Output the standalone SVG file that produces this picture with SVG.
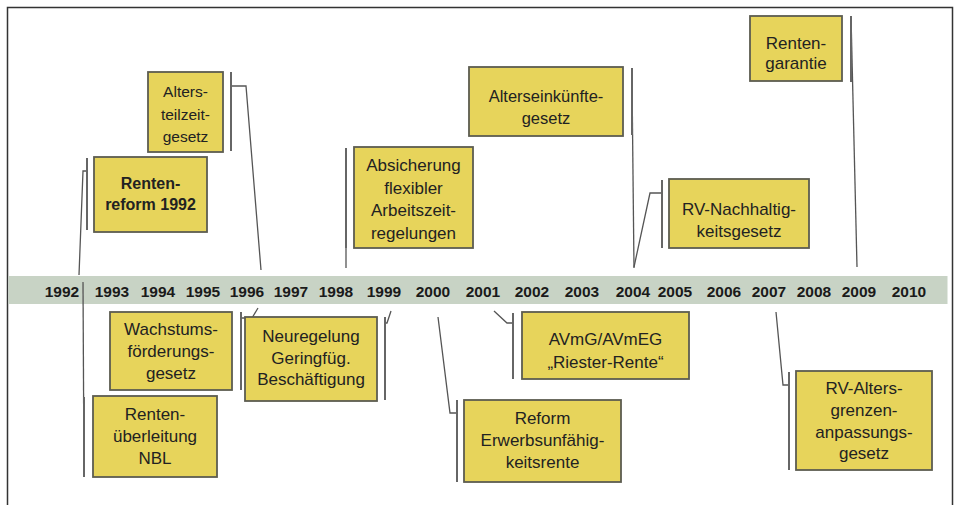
<svg xmlns="http://www.w3.org/2000/svg" width="957" height="505" viewBox="0 0 957 505">
<style>
.box{fill:#e7d45b;stroke:#5c5c50;stroke-width:1.8}
.t{font-family:"Liberation Sans",Arial,sans-serif;font-size:17px;fill:#222;text-anchor:middle}
.yr{font-family:"Liberation Sans",Arial,sans-serif;font-size:15.5px;font-weight:bold;fill:#1a1a1a;text-anchor:middle}
.ln{fill:none;stroke:#555;stroke-width:1.3}
.ac{fill:none;stroke:#666;stroke-width:2}
</style>
<rect x="0" y="0" width="957" height="505" fill="#fff"/>
<rect x="7.5" y="7.5" width="945" height="510" fill="none" stroke="#333" stroke-width="1.5"/>
<g id="timeline">
<rect x="8.5" y="276" width="939" height="28" fill="#c8d3c5"/>
<text class="yr" x="62" y="297">1992</text>
<text class="yr" x="112" y="297">1993</text>
<text class="yr" x="158" y="297">1994</text>
<text class="yr" x="203" y="297">1995</text>
<text class="yr" x="247" y="297">1996</text>
<text class="yr" x="291" y="297">1997</text>
<text class="yr" x="336" y="297">1998</text>
<text class="yr" x="384" y="297">1999</text>
<text class="yr" x="433" y="297">2000</text>
<text class="yr" x="483" y="297">2001</text>
<text class="yr" x="532" y="297">2002</text>
<text class="yr" x="582" y="297">2003</text>
<text class="yr" x="633" y="297">2004</text>
<text class="yr" x="675" y="297">2005</text>
<text class="yr" x="724" y="297">2006</text>
<text class="yr" x="769" y="297">2007</text>
<text class="yr" x="814" y="297">2008</text>
<text class="yr" x="859" y="297">2009</text>
<text class="yr" x="909" y="297">2010</text>
</g>
<g id="connectors">
<polyline class="ln" points="79,275 83,171 87,171"/><line class="ac" x1="87" y1="158" x2="87" y2="230"/>
<polyline class="ln" points="231,86 246,86 261,270"/><line class="ac" x1="231" y1="72" x2="231" y2="151"/>
<line class="ln" x1="346" y1="148" x2="346" y2="268"/><line class="ac" x1="346" y1="148" x2="346" y2="248"/>
<line class="ln" x1="632" y1="80" x2="634" y2="268"/><line class="ac" x1="632" y1="68" x2="632" y2="135"/>
<polyline class="ln" points="662,193 650,193 634,267"/><line class="ac" x1="662" y1="180" x2="662" y2="248"/>
<line class="ln" x1="851" y1="16" x2="857" y2="267"/><line class="ac" x1="851" y1="16" x2="851" y2="82"/>
<line class="ln" x1="83" y1="282" x2="84" y2="477"/><line class="ac" x1="84" y1="397" x2="84" y2="477"/>
<polyline class="ln" points="241,318 252,318 258,308"/><line class="ac" x1="241" y1="312" x2="241" y2="390"/>
<polyline class="ln" points="385,323 387,323 391,311"/><line class="ac" x1="385" y1="317" x2="385" y2="400"/>
<polyline class="ln" points="438,317 450,413 457,413"/><line class="ac" x1="457" y1="400" x2="457" y2="482"/>
<polyline class="ln" points="494,311 507,323 513,323"/><line class="ac" x1="513" y1="313" x2="513" y2="379"/>
<polyline class="ln" points="776,312 783,385 789,385"/><line class="ac" x1="789" y1="372" x2="789" y2="470"/>
</g>
<g id="alters-teilzeit">
<rect class="box" x="148" y="72" width="75" height="80"/>
<text class="t" style="font-size:15.5px" x="185.5" y="97">Alters-</text>
<text class="t" style="font-size:15.5px" x="185.5" y="120">teilzeit-</text>
<text class="t" style="font-size:15.5px" x="185.5" y="142">gesetz</text>
</g>
<g id="rentenreform-1992">
<rect class="box" x="94" y="157" width="113" height="75"/>
<text class="t" style="font-size:16px;font-weight:bold" x="150.5" y="189">Renten-</text>
<text class="t" style="font-size:16px;font-weight:bold" x="150.5" y="210">reform 1992</text>
</g>
<g id="absicherung">
<rect class="box" x="354" y="147" width="119" height="101"/>
<text class="t" x="413.5" y="171">Absicherung</text>
<text class="t" x="413.5" y="193.5">flexibler</text>
<text class="t" x="413.5" y="216">Arbeitszeit-</text>
<text class="t" x="413.5" y="238.5">regelungen</text>
</g>
<g id="alterseinkuenfte">
<rect class="box" x="469" y="67" width="154" height="69"/>
<text class="t" style="font-size:16.5px" x="546" y="102">Alterseinkünfte-</text>
<text class="t" style="font-size:16.5px" x="546" y="124">gesetz</text>
</g>
<g id="rentengarantie">
<rect class="box" x="750" y="16" width="92" height="65"/>
<text class="t" x="796" y="49">Renten-</text>
<text class="t" x="796" y="69">garantie</text>
</g>
<g id="rv-nachhaltigkeit">
<rect class="box" x="669" y="179" width="140" height="69"/>
<text class="t" x="739" y="215">RV-Nachhaltig-</text>
<text class="t" x="739" y="237">keitsgesetz</text>
</g>
<g id="wachstum">
<rect class="box" x="110" y="312" width="122" height="78"/>
<text class="t" x="171" y="335">Wachstums-</text>
<text class="t" x="171" y="357">förderungs-</text>
<text class="t" x="171" y="379">gesetz</text>
</g>
<g id="rentenueberleitung">
<rect class="box" x="93" y="396" width="124" height="81"/>
<text class="t" x="155" y="420">Renten-</text>
<text class="t" x="155" y="442">überleitung</text>
<text class="t" x="155" y="464">NBL</text>
</g>
<g id="neuregelung">
<rect class="box" x="245" y="317" width="132" height="84"/>
<text class="t" x="311" y="342">Neuregelung</text>
<text class="t" x="311" y="364">Geringfüg.</text>
<text class="t" x="311" y="385">Beschäftigung</text>
</g>
<g id="avmg">
<rect class="box" x="522" y="312" width="167" height="67"/>
<text class="t" x="605.5" y="345">AVmG/AVmEG</text>
<text class="t" x="605.5" y="368">„Riester-Rente“</text>
</g>
<g id="erwerbsunfaehigkeit">
<rect class="box" x="464" y="400" width="157" height="82"/>
<text class="t" x="542.5" y="424">Reform</text>
<text class="t" x="542.5" y="446">Erwerbsunfähig-</text>
<text class="t" x="542.5" y="468">keitsrente</text>
</g>
<g id="rv-altersgrenzen">
<rect class="box" x="796" y="371" width="136" height="99"/>
<text class="t" x="864" y="394">RV-Alters-</text>
<text class="t" x="864" y="416">grenzen-</text>
<text class="t" x="864" y="438">anpassungs-</text>
<text class="t" x="864" y="459">gesetz</text>
</g>
</svg>
